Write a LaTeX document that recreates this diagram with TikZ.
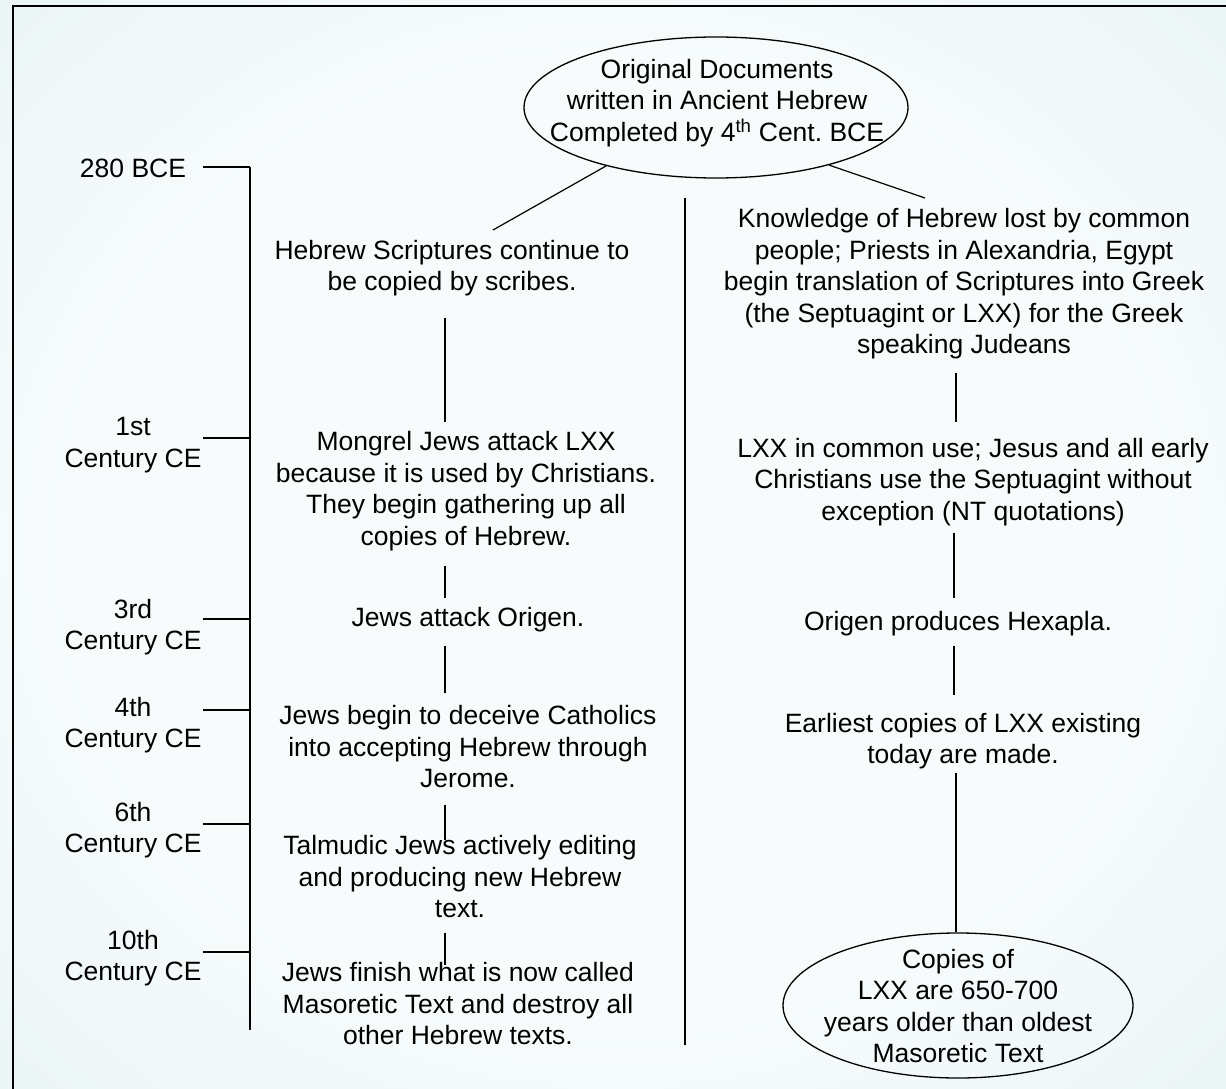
\documentclass[tikz,border=0pt]{standalone}
\usepackage{fontspec}
\setmainfont{Liberation Sans}
\usetikzlibrary{shapes.geometric}
\definecolor{bgOut}{RGB}{224,240,241}
\definecolor{bgIn}{RGB}{247,251,252}
\pgfdeclareradialshading{bgshade}{\pgfpoint{0bp}{0bp}}{color(0bp)=(bgIn); color(22bp)=(bgIn); color(50bp)=(bgOut); color(100bp)=(bgOut)}
\begin{document}
\frenchspacing
\begin{tikzpicture}[x=1pt,y=-1pt,
  txt/.style={align=center,inner sep=0pt,font=\fontsize{26.5}{31.5}\selectfont\frenchspacing},
  ln/.style={line width=1.2pt,black},
  oval/.style={ellipse,draw,line width=1.3pt,inner sep=0pt}]
\useasboundingbox (0,0) rectangle (1226,1089);
\shade[shading=bgshade] (0,0) rectangle (1226,1089);
\draw[line width=1.6pt] (13,1089) -- (13,6) -- (1226,6);

% top ellipse
\node[oval,minimum width=384pt,minimum height=141pt] (orig) at (716,107.5) {};
\node[txt] (origT) at (717,103) {Original Documents\\written in Ancient Hebrew\\Completed by 4\textsuperscript{th} Cent. BCE};

% timeline labels
\node[txt] (l280) at (133,168) {280 BCE};
\node[txt] (l1) at (133,445) {1st\\Century CE};
\node[txt] (l3) at (133,627) {3rd\\Century CE};
\node[txt] (l4) at (133,725) {4th\\Century CE};
\node[txt] (l6) at (133,830) {6th\\Century CE};
\node[txt] (l10) at (133,958) {10th\\Century CE};

% middle column
\node[txt] (m1) at (452,268) {Hebrew Scriptures continue to\\be copied by scribes.};
\node[txt] (m2) at (466,491) {Mongrel Jews attack LXX\\because it is used by Christians.\\They begin gathering up all\\copies of Hebrew.};
\node[txt] (m3) at (468,620) {Jews attack Origen.};
\node[txt] (m4) at (468,747) {Jews begin to deceive Catholics\\into accepting Hebrew through\\Jerome.};
\node[txt] (m5) at (460,877) {Talmudic Jews actively editing\\and producing new Hebrew\\text.};
\node[txt] (m6) at (458,1004) {Jews finish what is now called\\Masoretic Text and destroy all\\other Hebrew texts.};

% right column
\node[txt] (r1) at (964,284) {Knowledge of Hebrew lost by common\\people; Priests in Alexandria, Egypt\\begin translation of Scriptures into Greek\\(the Septuagint or LXX) for the Greek\\speaking Judeans};
\node[txt] (r2) at (973,482) {LXX in common use; Jesus and all early\\Christians use the Septuagint without\\exception (NT quotations)};
\node[txt] (r3) at (958,624) {Origen produces Hexapla.};
\node[txt] (r4) at (963,741) {Earliest copies of LXX existing\\today are made.};
\node[oval,minimum width=350pt,minimum height=145pt] (copies) at (958,1005.5) {};
\node[txt] (copiesT) at (958,1006) {Copies of\\LXX are 650-700\\years older than oldest\\Masoretic Text};

% coordinates
\coordinate (spTop) at (250,167);
\coordinate (spBot) at (250,1030);
\foreach \n/\y in {a/167,b/438,c/619,d/710,e/824,f/952}{
  \coordinate (t\n) at (203,\y);
  \coordinate (s\n) at (250,\y);
}
\coordinate (divTop) at (685,198);
\coordinate (divBot) at (685,1045);
\coordinate (lEnd) at (493,230);
\coordinate (rEnd) at (925,198);
\coordinate (ma1) at (445,318); \coordinate (mb1) at (445,422);
\coordinate (ma2) at (445,566); \coordinate (mb2) at (445,598);
\coordinate (ma3) at (445,646); \coordinate (mb3) at (445,693);
\coordinate (ma4) at (445,805); \coordinate (mb4) at (445,840);
\coordinate (ma5) at (445,933); \coordinate (mb5) at (445,965);
\coordinate (ra1) at (956,373); \coordinate (rb1) at (956,422);
\coordinate (ra2) at (954,533); \coordinate (rb2) at (954,598);
\coordinate (ra3) at (954,646); \coordinate (rb3) at (954,695);
\coordinate (ra4) at (956,773);

% connectors
\draw[ln] (spTop) -- (spBot);
\foreach \n in {a,b,c,d,e,f}{\draw[ln] (t\n) -- (s\n);}
\draw[ln] (divTop) -- (divBot);
\draw[ln] (orig.208) -- (lEnd);
\draw[ln] (orig.-27) -- (rEnd);
\foreach \i in {1,...,5}{\draw[ln] (ma\i) -- (mb\i);}
\foreach \i in {1,2,3}{\draw[ln] (ra\i) -- (rb\i);}
\draw[ln] (ra4) -- (copies.north -| ra4);
\end{tikzpicture}
\end{document}
